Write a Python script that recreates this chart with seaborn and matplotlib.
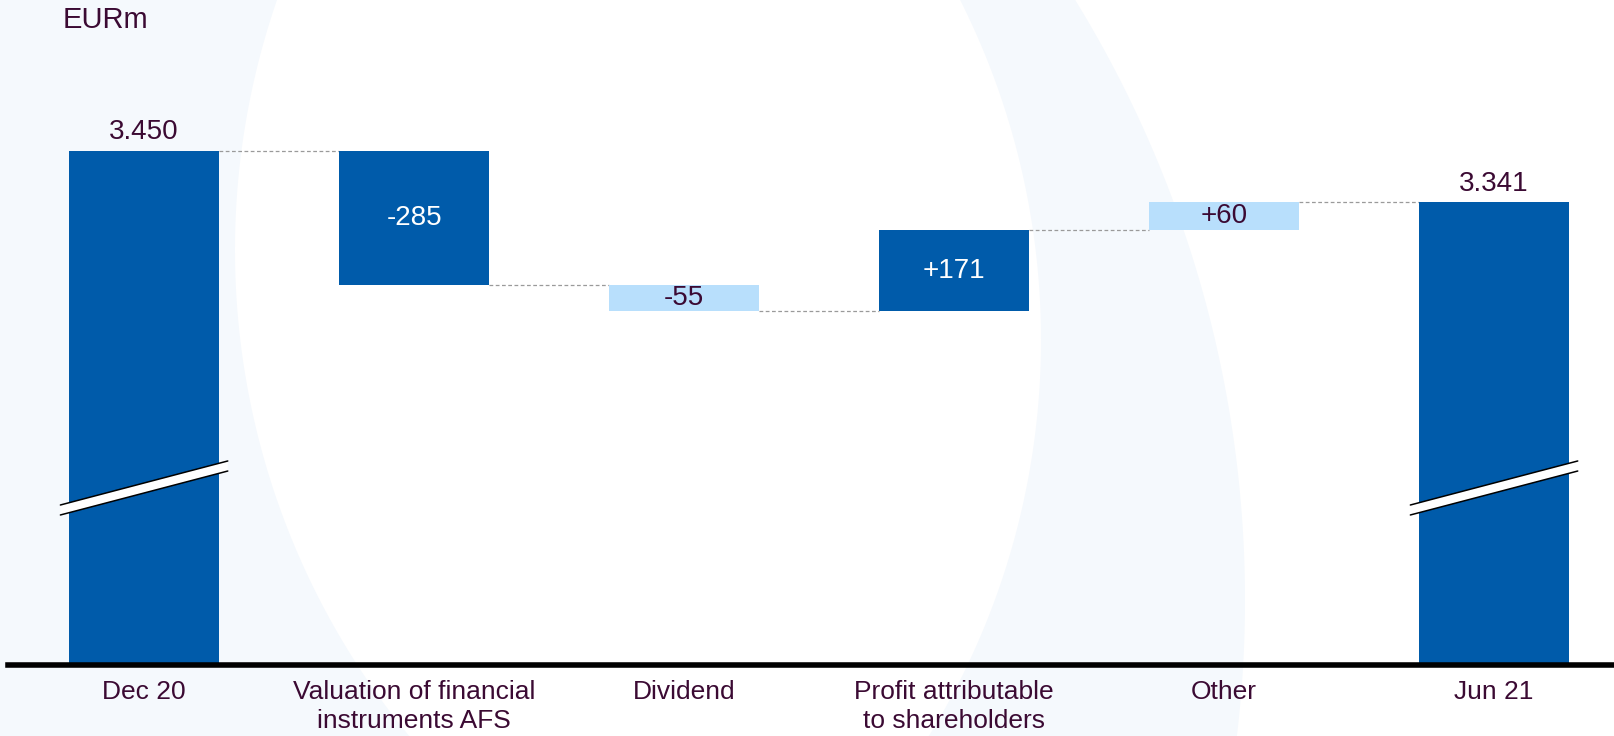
import numpy as np
import pandas as pd
import matplotlib
matplotlib.use("Agg")
import matplotlib.pyplot as plt
import matplotlib.transforms as mtransforms
from matplotlib.patches import Polygon
import seaborn as sns

# Datos del gráfico (EURm)
categorias = ["Dec 20", "Valuation of financial\ninstruments AFS", "Dividend",
              "Profit attributable\nto shareholders", "Other", "Jun 21"]
valores = [3450, -285, -55, 171, 60, 3341]
etiquetas = ["3.450", "-285", "-55", "+171", "+60", "3.341"]
es_total = [True, False, False, False, False, True]

# Colores
azul = "#005BAA"
celeste = "#B8DFFC"
morado = "#3B0A33"
fondo = "#F5F9FD"
colores = [azul, azul, celeste, azul, celeste, azul]

# Base de cada barra (cascada)
bases = []
acum = 0
for v, t in zip(valores, es_total):
    if t:
        bases.append(0)
        acum = v
    else:
        bases.append(acum)
        acum += v

df = pd.DataFrame({"Categoria": categorias, "Valor": valores, "Base": bases})
df["Nivel"] = df["Base"] + df["Valor"]
ancho = 0.555

sns.set_theme(style="white")
plt.rcParams["font.family"] = ["Liberation Sans", "DejaVu Sans"]

fig = plt.figure(figsize=(16.15, 7.36), dpi=100)
fig.patch.set_facecolor("white")

# Fondo decorativo (arcos claros)
bg = fig.add_axes([0, 0, 1, 1], zorder=0)
bg.set_xlim(0, 1615)
bg.set_ylim(736, 0)
bg.axis("off")
yy = np.linspace(0, 736, 300)
borde_izq = 1000 - np.sqrt(765 ** 2 - (yy - 250) ** 2)
bg.fill_betweenx(yy, 0, borde_izq, color=fondo, lw=0)
arco1 = 286 + np.sqrt(755 ** 2 - (yy - 340) ** 2)
arco2 = 100 + np.sqrt(1145 ** 2 - (yy - 600) ** 2)
bg.fill_betweenx(yy, arco1, arco2, color=fondo, lw=0)

# Grafico principal
ax = fig.add_axes([8 / 1615, 71 / 736, 1 - 8 / 1615, 665 / 736], zorder=1)
ax.patch.set_alpha(0)
sns.barplot(data=df, x="Categoria", y="Valor", bottom=df["Base"].values,
            color=azul, saturation=1, width=ancho, linewidth=0, ax=ax)
for p, c in zip(ax.patches, colores):
    p.set_facecolor(c)

ax.set_xlim(-0.504, 5.448)
ax.set_ylim(2357, 3771)

# Lineas de conexión
for i in range(len(df) - 1):
    ax.hlines(df["Nivel"][i], i + ancho / 2, i + 1 - ancho / 2, colors="#9a9a9a",
              linestyles=(0, (3, 2)), lw=0.9, zorder=0)

# Etiquetas de valores
for i, row in df.iterrows():
    if es_total[i]:
        ax.annotate(etiquetas[i], (i, row["Nivel"]), xytext=(0, 4), textcoords="offset points",
                    ha="center", va="bottom", fontsize=20, color=morado)
    else:
        ax.text(i, row["Base"] + row["Valor"] / 2, etiquetas[i], ha="center", va="center",
                fontsize=20, color="white" if colores[i] == azul else morado)

# Marcas de corte del eje en los totales
trans = mtransforms.blended_transform_factory(ax.transData, ax.transAxes)
for i in [0, len(df) - 1]:
    xs = [i - 0.31, i + 0.31]
    sup = [0.2406, 0.3068]
    inf = [0.2256, 0.2917]
    ax.add_patch(Polygon([(xs[0], inf[0]), (xs[1], inf[1]), (xs[1], sup[1]), (xs[0], sup[0])],
                         closed=True, transform=trans, fc="white", ec="none", zorder=3, clip_on=False))
    ax.plot(xs, sup, color="black", lw=1.1, transform=trans, zorder=4, clip_on=False)
    ax.plot(xs, inf, color="black", lw=1.1, transform=trans, zorder=4, clip_on=False)

# Ejes
sns.despine(ax=ax, left=True)
ax.spines["bottom"].set_linewidth(4)
ax.spines["bottom"].set_color("black")
ax.set_yticks([])
ax.set_xlabel("")
ax.set_ylabel("")
ax.tick_params(axis="x", length=0, pad=11, labelsize=19, labelcolor=morado)
for lab in ax.get_xticklabels():
    lab.set_linespacing(1.25)

fig.text(63 / 1615, 1 - 6 / 736, "EURm", ha="left", va="top", fontsize=21, color=morado)

fig.savefig("out.png", dpi=100)
